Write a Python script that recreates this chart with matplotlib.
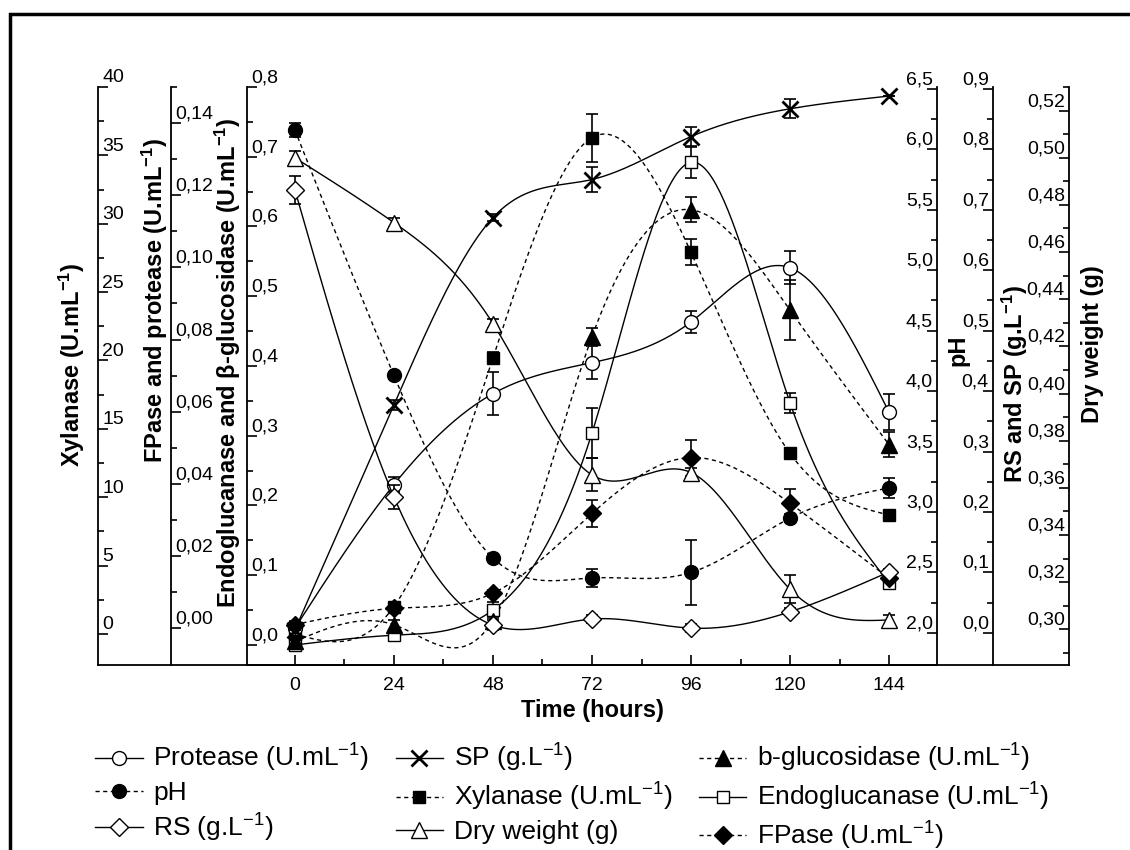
import numpy as np
import matplotlib
matplotlib.use("Agg")
import matplotlib.pyplot as plt
from matplotlib.ticker import FuncFormatter
from matplotlib.transforms import ScaledTranslation
from matplotlib.lines import Line2D
from matplotlib.patches import Rectangle

plt.rcParams["font.family"] = ["Liberation Sans", "DejaVu Sans"]
plt.rcParams["mathtext.fontset"] = "custom"
plt.rcParams["mathtext.rm"] = "Liberation Sans"
plt.rcParams["mathtext.it"] = "Liberation Sans:italic"
plt.rcParams["mathtext.bf"] = "Liberation Sans:bold"

# data
time_h = [0, 24, 48, 72, 96, 120, 144]

endoglucanase = [0.0, 0.014, 0.05, 0.304, 0.692, 0.347, 0.089]
endo_err = [0.005, 0.006, 0.012, 0.036, 0.022, 0.014, 0.008]
b_glucosidase = [0.005, 0.029, 0.035, 0.442, 0.624, 0.48, 0.287]
bglu_err = [0.004, 0.007, 0.006, 0.012, 0.018, 0.043, 0.018]

protease = [0.000, 0.0398, 0.065, 0.0736, 0.0849, 0.0999, 0.0598]
protease_err = [0.001, 0.002, 0.006, 0.0046, 0.003, 0.0046, 0.005]
fpase = [0.001, 0.0055, 0.0097, 0.0318, 0.0473, 0.0346, 0.0138]
fpase_err = [0.001, 0.001, 0.001, 0.0037, 0.005, 0.004, 0.001]

xylanase = [0.0, 2.0, 20.2, 36.3, 27.9, 13.2, 8.7]
xyl_err = [0.2, 0.3, 0.4, 1.75, 0.95, 0.4, 0.3]

ph = [6.16, 4.13, 2.62, 2.455, 2.50, 2.95, 3.20]
ph_err = [0.06, 0.03, 0.03, 0.075, 0.27, 0.03, 0.08]

sp = [0.005, 0.377, 0.687, 0.750, 0.821, 0.867, 0.888]
sp_err = [0.0, 0.008, 0.006, 0.02, 0.016, 0.016, 0.0]
rs = [0.733, 0.225, 0.013, 0.023, 0.008, 0.035, 0.101]
rs_err = [0.023, 0.02, 0.008, 0.006, 0.006, 0.006, 0.004]

dry_weight = [0.500, 0.4725, 0.4297, 0.3655, 0.3665, 0.317, 0.304]
dw_err = [0.003, 0.002, 0.002, 0.007, 0.002, 0.006, 0.002]


def spline(x, y, n=300):
    # natural cubic spline through the points
    x = np.asarray(x, float)
    y = np.asarray(y, float)
    k = len(x)
    h = np.diff(x)
    A = np.zeros((k, k))
    r = np.zeros(k)
    A[0, 0] = A[-1, -1] = 1
    for i in range(1, k - 1):
        A[i, i - 1] = h[i - 1]
        A[i, i] = 2 * (h[i - 1] + h[i])
        A[i, i + 1] = h[i]
        r[i] = 6 * ((y[i + 1] - y[i]) / h[i] - (y[i] - y[i - 1]) / h[i - 1])
    M = np.linalg.solve(A, r)
    t = np.linspace(x[0], x[-1], n)
    idx = np.clip(np.searchsorted(x, t) - 1, 0, k - 2)
    x0, x1 = x[idx], x[idx + 1]
    hh = x1 - x0
    s = (M[idx] * (x1 - t) ** 3 / (6 * hh) + M[idx + 1] * (t - x0) ** 3 / (6 * hh)
         + (y[idx] / hh - M[idx] * hh / 6) * (x1 - t)
         + (y[idx + 1] / hh - M[idx + 1] * hh / 6) * (t - x0))
    return t, s


DOT = (0, (3, 2.5))

fig = plt.figure(figsize=(11.3, 8.5), dpi=100)
W, H = 1130, 850
left, right, top, bottom = 247, 937, 87, 665
ax = fig.add_axes([left / W, 1 - bottom / H, (right - left) / W, (bottom - top) / H])
ax_xyl = ax.twinx()
ax_fp = ax.twinx()
ax_ph = ax.twinx()
ax_rs = ax.twinx()
ax_dw = ax.twinx()

ax.set_xlim(-11.6, 155.6)
ax.set_xticks(time_h)
ax.set_xticks([12, 36, 60, 84, 108, 132], minor=True)


def comma(dec):
    return FuncFormatter(lambda v, p: f"{v:.{dec}f}".replace(".", ","))


def setup(a, side, pos, ylim, major, minor, dec, label, lab_xy):
    for s in a.spines.values():
        s.set_visible(False)
    sp_ = a.spines[side]
    sp_.set_visible(True)
    sp_.set_position(("axes", pos))
    sp_.set_linewidth(1.3)
    if side == "left":
        a.yaxis.tick_left()
    else:
        a.yaxis.tick_right()
    a.set_ylim(*ylim)
    a.set_yticks(major)
    a.set_yticks(minor, minor=True)
    a.yaxis.set_major_formatter(comma(dec))
    a.tick_params(axis="y", which="both", direction="in", labelsize=14, pad=-3, width=1.2)
    a.tick_params(axis="y", which="major", length=7)
    a.tick_params(axis="y", which="minor", length=4)
    a.set_ylabel(label, fontsize=17, fontweight="bold", va="center")
    a.yaxis.set_label_coords(*lab_xy)
    off = ScaledTranslation(0, 11 / 100, fig.dpi_scale_trans)
    for lbl in a.get_yticklabels():
        lbl.set_horizontalalignment("left" if side == "left" else "right")
        lbl.set_transform(lbl.get_transform() + off)


def frac_x(px):
    return (px - left) / (right - left)


def frac_y(py):
    return (bottom - py) / (bottom - top)


setup(ax, "left", 0.0, (-0.0287, 0.8), np.arange(0, 0.81, 0.1), np.arange(0.05, 0.8, 0.1), 1,
      r"Endoglucanase and β-glucosidase (U.mL$^{\mathbf{-1}}$)", (frac_x(228), frac_y(363)))
setup(ax_xyl, "left", frac_x(98), (-2.27, 40), np.arange(0, 41, 5), np.arange(2.5, 40, 5), 0,
      r"Xylanase (U.mL$^{\mathbf{-1}}$)", (frac_x(72), frac_y(365)))
setup(ax_fp, "left", frac_x(171), (-0.0102, 0.15), np.arange(0, 0.141, 0.02), np.arange(0.01, 0.151, 0.02), 2,
      r"FPase and protease (U.mL$^{\mathbf{-1}}$)", (frac_x(155), frac_y(300)))
setup(ax_ph, "right", 1.0, (1.735, 6.515), np.arange(2.0, 6.51, 0.5), np.arange(2.25, 6.5, 0.5), 1,
      "pH", (frac_x(958), frac_y(350)))
setup(ax_rs, "right", frac_x(993), (-0.053, 0.903), np.arange(0, 0.91, 0.1), np.arange(0.05, 0.9, 0.1), 1,
      r"RS and SP (g.L$^{\mathbf{-1}}$)", (frac_x(1015), frac_y(384)))
setup(ax_dw, "right", frac_x(1069), (0.2849, 0.528), np.arange(0.30, 0.521, 0.02), np.arange(0.29, 0.53, 0.02), 2,
      "Dry weight (g)", (frac_x(1093), frac_y(344)))

ax.spines["bottom"].set_visible(True)
ax.spines["bottom"].set_linewidth(1.3)
ax.tick_params(axis="x", which="both", direction="in", labelsize=14, pad=9, width=1.2)
ax.tick_params(axis="x", which="major", length=7)
ax.tick_params(axis="x", which="minor", length=4)
ax.set_xlabel("Time (hours)", fontsize=17, fontweight="bold")
ax.xaxis.set_label_coords(0.5, -0.058)


def draw(a, y, err, marker, face, ls, ms=10, mew=1.0):
    xs, ys = spline(time_h, y)
    a.plot(xs, ys, color="k", lw=1.0, ls=ls, zorder=2)
    a.errorbar(time_h, y, yerr=err, fmt="none", ecolor="k", elinewidth=1.2,
               capsize=4, capthick=1.2, zorder=3)
    a.plot(time_h, y, ls="none", marker=marker, ms=ms, mfc=face, mec="k", mew=mew, zorder=4)


draw(ax_dw, dry_weight, dw_err, "^", "white", "-", ms=11)
draw(ax_rs, rs, rs_err, "D", "white", "-", ms=9)
draw(ax_rs, sp, sp_err, "x", "k", "-", ms=11, mew=2)
draw(ax_ph, ph, ph_err, "o", "k", DOT)
draw(ax_xyl, xylanase, xyl_err, "s", "k", DOT, ms=9)
draw(ax_fp, protease, protease_err, "o", "white", "-")
draw(ax_fp, fpase, fpase_err, "D", "k", DOT, ms=9)
draw(ax, endoglucanase, endo_err, "s", "white", "-", ms=9)
draw(ax, b_glucosidase, bglu_err, "^", "k", DOT, ms=11)

# bottom axis line spans all the y axes
fig.add_artist(Line2D([98 / W, 1069 / W], [1 - bottom / H] * 2, transform=fig.transFigure,
                      color="k", lw=1.3))
# outer frame
fig.add_artist(Rectangle((10 / W, -0.1), 1.2, 1.1 - 14 / H, transform=fig.transFigure,
                         fill=False, lw=2.5, edgecolor="k"))


def handle(marker, face, ls, ms=10, mew=1.0):
    return Line2D([], [], color="k", lw=1.0, ls=ls, marker=marker, ms=ms, mfc=face, mec="k", mew=mew)


handles = [
    handle("o", "white", "-"), handle("o", "k", DOT), handle("D", "white", "-", ms=9),
    handle("x", "k", "-", ms=11, mew=2), handle("s", "k", DOT, ms=9), handle("^", "white", "-", ms=11),
    handle("^", "k", DOT, ms=11), handle("s", "white", "-", ms=9), handle("D", "k", DOT, ms=9),
]
labels = [
    r"Protease (U.mL$^{-1}$)", "pH", r"RS (g.L$^{-1}$)",
    r"SP (g.L$^{-1}$)", r"Xylanase (U.mL$^{-1}$)", "Dry weight (g)",
    r"b-glucosidase (U.mL$^{-1}$)", r"Endoglucanase (U.mL$^{-1}$)", r"FPase (U.mL$^{-1}$)",
]
fig.legend(handles, labels, ncol=3, loc="upper left", bbox_to_anchor=(82 / W, 1 - 729 / H),
           frameon=False, fontsize=19, handlelength=1.8, columnspacing=1.0,
           labelspacing=0.25, handletextpad=0.4, borderpad=0)

fig.savefig("out.png", dpi=100)
